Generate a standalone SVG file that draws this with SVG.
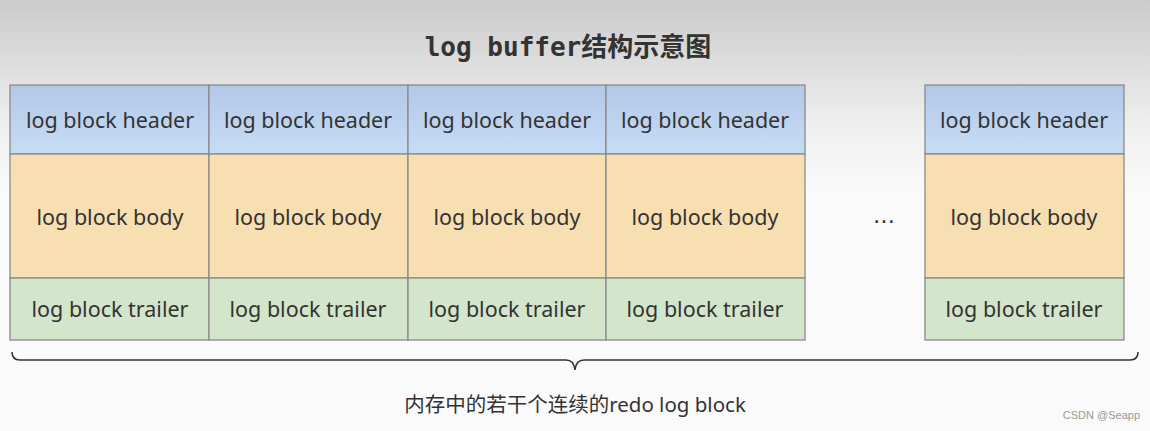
<svg xmlns="http://www.w3.org/2000/svg" width="1150" height="431" viewBox="0 0 1150 431">
<defs>
<linearGradient id="bg" x1="0" y1="0" x2="0" y2="1">
<stop offset="0" stop-color="#cbcbcb"/>
<stop offset="0.3" stop-color="#f0f0f0"/>
<stop offset="0.45" stop-color="#fafafa"/>
<stop offset="1" stop-color="#fafafa"/>
</linearGradient>
<linearGradient id="hdr" x1="0" y1="0" x2="0" y2="1">
<stop offset="0" stop-color="#b3c8e7"/>
<stop offset="1" stop-color="#c6dcf6"/>
</linearGradient>
<style>
.cell{stroke:#8a8a8a;stroke-width:1.3}
.h{fill:url(#hdr)}
.b{fill:#f7dfb1}
.t{fill:#d3e5cb}
.lbl{font-family:"Noto Sans","Open Sans",sans-serif;font-size:21.5px;fill:#333;text-anchor:middle}
</style>
</defs>
<rect x="0" y="0" width="1150" height="431" fill="url(#bg)"/>
<text x="568" y="56" font-family="'DejaVu Sans Mono','Noto Sans CJK SC',monospace" font-size="26" font-weight="bold" fill="#333" text-anchor="middle">log buffer<tspan font-family="'Noto Sans CJK SC',sans-serif">结构示意图</tspan></text>
<g id="block1">
<rect class="cell h" x="10" y="85" width="199" height="69"/>
<rect class="cell b" x="10" y="154" width="199" height="124"/>
<rect class="cell t" x="10" y="278" width="199" height="62"/>
<text class="lbl" x="110" y="128">log block header</text>
<text class="lbl" x="110" y="225">log block body</text>
<text class="lbl" x="110" y="317">log block trailer</text>
</g>
<g id="block2">
<rect class="cell h" x="209" y="85" width="199" height="69"/>
<rect class="cell b" x="209" y="154" width="199" height="124"/>
<rect class="cell t" x="209" y="278" width="199" height="62"/>
<text class="lbl" x="308" y="128">log block header</text>
<text class="lbl" x="308" y="225">log block body</text>
<text class="lbl" x="308" y="317">log block trailer</text>
</g>
<g id="block3">
<rect class="cell h" x="408" y="85" width="198" height="69"/>
<rect class="cell b" x="408" y="154" width="198" height="124"/>
<rect class="cell t" x="408" y="278" width="198" height="62"/>
<text class="lbl" x="507" y="128">log block header</text>
<text class="lbl" x="507" y="225">log block body</text>
<text class="lbl" x="507" y="317">log block trailer</text>
</g>
<g id="block4">
<rect class="cell h" x="606" y="85" width="199" height="69"/>
<rect class="cell b" x="606" y="154" width="199" height="124"/>
<rect class="cell t" x="606" y="278" width="199" height="62"/>
<text class="lbl" x="705" y="128">log block header</text>
<text class="lbl" x="705" y="225">log block body</text>
<text class="lbl" x="705" y="317">log block trailer</text>
</g>
<g id="ellipsis">
<text x="884" y="223" font-family="'DejaVu Sans',sans-serif" font-size="22" fill="#333" text-anchor="middle">…</text>
</g>
<g id="block5">
<rect class="cell h" x="925" y="85" width="199" height="69"/>
<rect class="cell b" x="925" y="154" width="199" height="124"/>
<rect class="cell t" x="925" y="278" width="199" height="62"/>
<text class="lbl" x="1024" y="128">log block header</text>
<text class="lbl" x="1024" y="225">log block body</text>
<text class="lbl" x="1024" y="317">log block trailer</text>
</g>
<g id="connectors">
<path d="M12,352 Q12,360 20,360 L566,360 Q574,360 575,370 Q576,360 584,360 L1130,360 Q1138,360 1138,352" fill="none" stroke="#333" stroke-width="1.5"/>
</g>
<text x="575" y="412" font-family="'Noto Sans','Noto Sans CJK SC',sans-serif" font-size="20.5" fill="#333" text-anchor="middle">内存中的若干个连续的redo log block</text>
<text x="1140" y="419" font-family="'Liberation Sans',sans-serif" font-size="11" fill="#999" text-anchor="end">CSDN @Seapp</text>
</svg>
